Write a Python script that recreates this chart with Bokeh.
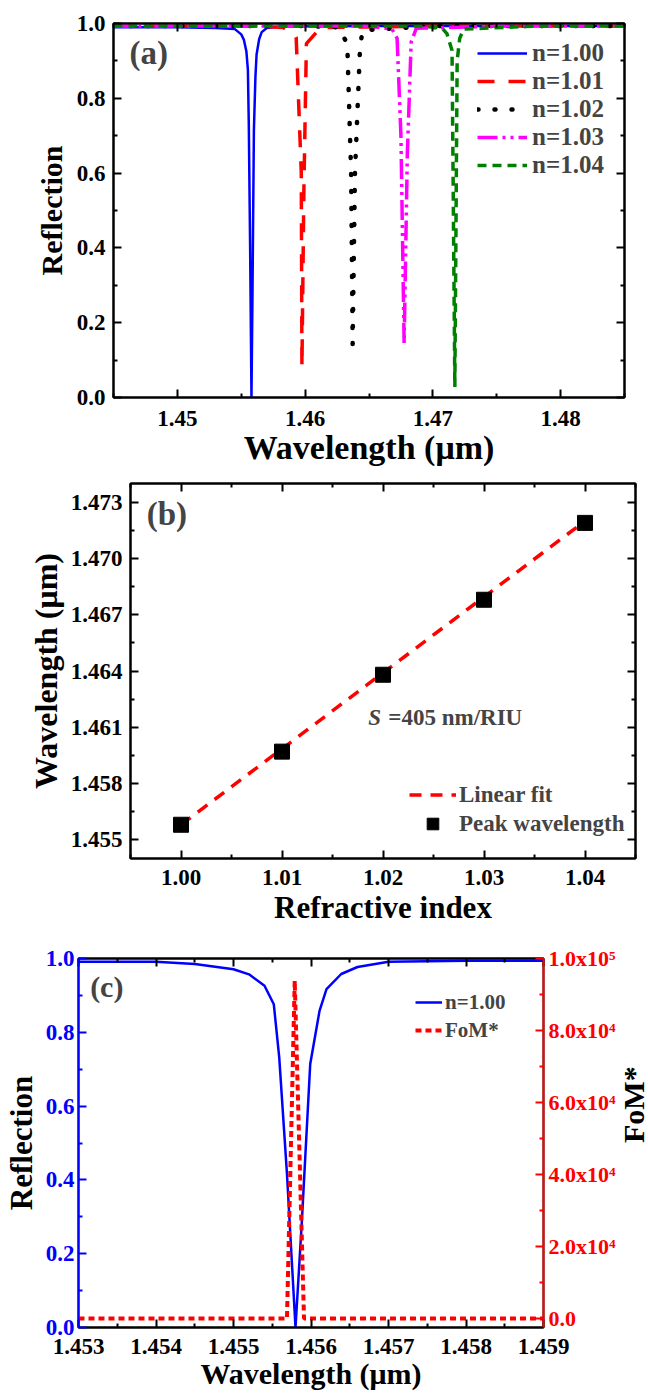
import math
from bokeh.plotting import figure
from bokeh.models import (LinearAxis, Range1d, FixedTicker, Legend, LegendItem,
                          Label, CustomJSTickFormatter)
from bokeh.embed import file_html
from bokeh.resources import INLINE

FONT = "Liberation Serif"

# ---------------- data: panel (a) ----------------
wl_100 = [1.4450, 1.4500, 1.4530, 1.4545, 1.4550, 1.4552, 1.4554, 1.45552, 1.45559, 1.45569,
          1.4558, 1.45588, 1.45599, 1.45611, 1.4562, 1.4564, 1.4566, 1.4570, 1.4580, 1.4650, 1.4850]
r_100 = [0.990, 0.990, 0.988, 0.985, 0.971, 0.957, 0.926, 0.876, 0.732, 0.416,
         0.000, 0.280, 0.714, 0.858, 0.917, 0.958, 0.977, 0.988, 0.992, 0.993, 0.993]
wl_101 = [1.4450, 1.4560, 1.4583, 1.4593, 1.4597, 1.45975, 1.4599, 1.4601, 1.4612, 1.4700, 1.4850]
r_101 = [0.993, 0.993, 0.989, 0.963, 0.600, 0.081, 0.550, 0.946, 0.989, 0.993, 0.993]
wl_102 = [1.4450, 1.4600, 1.4626, 1.4633, 1.4636, 1.46372, 1.4639, 1.4643, 1.4645, 1.4700, 1.4850]
r_102 = [0.993, 0.993, 0.990, 0.946, 0.600, 0.143, 0.600, 0.937, 0.982, 0.993, 0.993]
wl_103 = [1.4450, 1.4650, 1.4668, 1.4672, 1.4675, 1.46775, 1.4680, 1.4683, 1.4687, 1.4750, 1.4850]
r_103 = [0.993, 0.993, 0.985, 0.960, 0.700, 0.145, 0.650, 0.950, 0.987, 0.993, 0.993]
wl_104 = [1.4450, 1.4690, 1.4707, 1.4711, 1.4715, 1.47172, 1.4719, 1.4721, 1.4724, 1.4780, 1.4850]
r_104 = [0.993, 0.993, 0.988, 0.973, 0.928, 0.028, 0.900, 0.960, 0.985, 0.993, 0.993]
labels_a = ["n=1.00", "n=1.01", "n=1.02", "n=1.03", "n=1.04"]

xa_ticks = [1.45, 1.46, 1.47, 1.48]
xa_labels = ["1.45", "1.46", "1.47", "1.48"]
xa_minor = [1.445, 1.455, 1.465, 1.475, 1.485]
ya_ticks = [0.0, 0.2, 0.4, 0.6, 0.8, 1.0]
ya_labels = ["0.0", "0.2", "0.4", "0.6", "0.8", "1.0"]
ya_minor = [0.1, 0.3, 0.5, 0.7, 0.9]

# ---------------- data: panel (b) ----------------
ref_index = [1.00, 1.01, 1.02, 1.03, 1.04]
peak_wl = [1.4558, 1.4597, 1.4638, 1.4678, 1.4719]
fit_x = [1.000, 1.040]
fit_y = [1.4558, 1.4720]
xb_ticks = [1.00, 1.01, 1.02, 1.03, 1.04]
xb_labels = ["1.00", "1.01", "1.02", "1.03", "1.04"]
xb_minor = [0.995, 1.005, 1.015, 1.025, 1.035, 1.045]
yb_ticks = [1.455, 1.458, 1.461, 1.464, 1.467, 1.470, 1.473]
yb_labels = ["1.455", "1.458", "1.461", "1.464", "1.467", "1.470", "1.473"]
yb_minor = [1.4565, 1.4595, 1.4625, 1.4655, 1.4685, 1.4715]

# ---------------- data: panel (c) ----------------
wl_c = [1.4530, 1.4540, 1.4545, 1.4550, 1.4552, 1.4554, 1.45552, 1.45559, 1.45569, 1.4558,
        1.45588, 1.45599, 1.45611, 1.4562, 1.45639, 1.4566, 1.4570, 1.4580, 1.4590]
r_c = [0.991, 0.991, 0.985, 0.971, 0.957, 0.926, 0.876, 0.732, 0.416, 0.000,
       0.280, 0.714, 0.858, 0.917, 0.958, 0.977, 0.991, 0.994, 0.994]
wl_fom = [1.4530, 1.45569, 1.45579, 1.45591, 1.4590]
fom = [0, 0, 93800, 0, 0]
xc_ticks = [1.453, 1.454, 1.455, 1.456, 1.457, 1.458, 1.459]
xc_labels = ["1.453", "1.454", "1.455", "1.456", "1.457", "1.458", "1.459"]
xc_minor = [1.4535, 1.4545, 1.4555, 1.4565, 1.4575, 1.4585]
yc_ticks = [0.0, 0.2, 0.4, 0.6, 0.8, 1.0]
yc_labels = ["0.0", "0.2", "0.4", "0.6", "0.8", "1.0"]
yc_minor = [0.1, 0.3, 0.5, 0.7, 0.9]
yr_ticks = [0, 20000, 40000, 60000, 80000, 100000]
yr_labels = ["0.0", "2.0x10\u2074", "4.0x10\u2074", "6.0x10\u2074", "8.0x10\u2074", "1.0x10\u2075"]
yr_minor = [10000, 30000, 50000, 70000, 90000]


def fmt(ticks, labels):
    return CustomJSTickFormatter(args=dict(t=list(ticks), l=list(labels)), code="""
let best = 0, bd = Infinity;
for (let i = 0; i < t.length; i++) { const d = Math.abs(t[i] - tick); if (d < bd) { bd = d; best = i; } }
return l[best];
""")


def blank():
    return CustomJSTickFormatter(code="return '';")


def style_axis(ax, color="black", size="23px", standoff=8, lsize="30px", lstand=4):
    ax.axis_line_width = 2
    ax.axis_line_color = color
    ax.major_tick_line_color = color
    ax.minor_tick_line_color = color
    ax.major_tick_line_width = 2
    ax.minor_tick_line_width = 2
    ax.major_tick_in = 8
    ax.major_tick_out = 0
    ax.minor_tick_in = 4
    ax.minor_tick_out = 0
    ax.major_label_text_font = FONT
    ax.major_label_text_font_style = "bold"
    ax.major_label_text_font_size = size
    ax.major_label_text_color = color
    ax.major_label_standoff = standoff
    ax.axis_label_text_font = FONT
    ax.axis_label_text_font_style = "bold"
    ax.axis_label_text_font_size = lsize
    ax.axis_label_text_color = "black"
    ax.axis_label_standoff = lstand


def mirror(p, place, ticks, minor, color="black", range_name=None):
    kw = {}
    if range_name:
        kw["y_range_name"] = range_name
    ax = LinearAxis(ticker=FixedTicker(ticks=ticks, minor_ticks=minor), formatter=blank(), **kw)
    style_axis(ax, color=color, standoff=0)
    p.add_layout(ax, place)
    return ax


def base(fw, fh, l, r, t, b, xr, yr):
    p = figure(frame_width=fw, frame_height=fh, min_border_left=l, min_border_right=r,
               min_border_top=t, min_border_bottom=b, x_range=xr, y_range=yr,
               output_backend="svg", toolbar_location=None)
    p.xgrid.visible = False
    p.ygrid.visible = False
    p.outline_line_color = "black"
    p.outline_line_width = 2
    p.background_fill_color = "white"
    p.border_fill_color = "white"
    return p


def legend(items, loc, gw, fs, standoff, rowh):
    lg = Legend(items=items, location=loc, border_line_color=None, background_fill_alpha=0,
                padding=0, margin=0, spacing=0, glyph_width=gw, glyph_height=rowh,
                label_height=rowh, label_standoff=standoff, label_text_font=FONT,
                label_text_font_style="bold", label_text_font_size=fs)
    return lg

# ---------------- panel (a) ----------------
pa = base(511, 374, 113, 24, 23, 73, Range1d(1.445, 1.485), Range1d(0, 1))
pa.xaxis.ticker = FixedTicker(ticks=xa_ticks, minor_ticks=xa_minor)
pa.xaxis.formatter = fmt(xa_ticks, xa_labels)
pa.yaxis.ticker = FixedTicker(ticks=ya_ticks, minor_ticks=ya_minor)
pa.yaxis.formatter = fmt(ya_ticks, ya_labels)
pa.xaxis.axis_label = "Wavelength (\u03bcm)"
pa.yaxis.axis_label = "Reflection"
style_axis(pa.xaxis[0], standoff=13, lsize="34px", lstand=0)
style_axis(pa.yaxis[0], standoff=8, lsize="30px", lstand=6)
mirror(pa, "above", xa_ticks, xa_minor)
mirror(pa, "right", ya_ticks, ya_minor)

ra1 = pa.line(wl_100, r_100, line_color="#0000ff", line_width=2.5)
ra2 = pa.line(wl_101, r_101, line_color="#ff0000", line_width=3.5, line_dash="17 14")
ra3 = pa.line(wl_102, r_102, line_color="black", line_width=4.5, line_dash="1 16", line_cap="round")
ra4 = pa.line(wl_103, r_103, line_color="#ff00ff", line_width=3.5, line_dash="20 5 3 5 3 5")
ra5 = pa.line(wl_104, r_104, line_color="#008000", line_width=3.5, line_dash="9 6")
pa.add_layout(legend([LegendItem(label=lab, renderers=[r]) for lab, r in
                      zip(labels_a, [ra1, ra2, ra3, ra4, ra5])], (364, 218), 50, "25px", 5, 28))
pa.add_layout(Label(x=1.44625, y=0.92, text="(a)", text_baseline="middle", text_font=FONT,
                    text_font_style="bold", text_font_size="33px"))

# ---------------- panel (b) ----------------
pb = base(505, 375, 130, 13, 13, 77, Range1d(0.995, 1.045), Range1d(1.454, 1.474))
pb.xaxis.ticker = FixedTicker(ticks=xb_ticks, minor_ticks=xb_minor)
pb.xaxis.formatter = fmt(xb_ticks, xb_labels)
pb.yaxis.ticker = FixedTicker(ticks=yb_ticks, minor_ticks=yb_minor)
pb.yaxis.formatter = fmt(yb_ticks, yb_labels)
pb.xaxis.axis_label = "Refractive index"
pb.yaxis.axis_label = "Wavelength (\u03bcm)"
style_axis(pb.xaxis[0], standoff=11, lsize="31px", lstand=2)
style_axis(pb.yaxis[0], standoff=8, lsize="32px", lstand=4)
mirror(pb, "above", xb_ticks, xb_minor)
mirror(pb, "right", yb_ticks, yb_minor)

rb1 = pb.line(fit_x, fit_y, line_color="#ff0000", line_width=3.5, line_dash="12 9")
rb2 = pb.scatter(ref_index, peak_wl, marker="square", size=15, fill_color="black", line_color="black")
pb.add_layout(legend([LegendItem(label="Linear fit", renderers=[rb1]),
                      LegendItem(label="Peak wavelength", renderers=[rb2])],
                     (279, 20), 47, "23px", 3, 29))
pb.add_layout(Label(x=0.9966, y=1.4724, text="(b)", text_baseline="middle", text_font=FONT,
                    text_font_style="bold", text_font_size="33px"))
pb.add_layout(Label(x=1.01855, y=1.46152, text="S", text_baseline="middle", text_font=FONT,
                    text_font_style="bold italic", text_font_size="23px"))
pb.add_layout(Label(x=1.01855, y=1.46152, x_offset=20, text="=405 nm/RIU", text_baseline="middle",
                    text_font=FONT, text_font_style="bold", text_font_size="23px"))

# ---------------- panel (c) ----------------
pc = base(465, 369, 78, 105, 23, 66, Range1d(1.453, 1.459), Range1d(0, 1))
pc.extra_y_ranges = {"fom": Range1d(-2500, 100000)}
pc.xaxis.ticker = FixedTicker(ticks=xc_ticks, minor_ticks=xc_minor)
pc.xaxis.formatter = fmt(xc_ticks, xc_labels)
pc.yaxis.ticker = FixedTicker(ticks=yc_ticks, minor_ticks=yc_minor)
pc.yaxis.formatter = fmt(yc_ticks, yc_labels)
pc.xaxis.axis_label = "Wavelength (\u03bcm)"
pc.yaxis.axis_label = "Reflection"
style_axis(pc.xaxis[0], standoff=11, lsize="30px", lstand=0)
style_axis(pc.yaxis[0], color="#0000ff", standoff=4, lsize="31px", lstand=4)
mirror(pc, "above", xc_ticks, xc_minor)
rax = LinearAxis(y_range_name="fom", ticker=FixedTicker(ticks=yr_ticks, minor_ticks=yr_minor),
                 formatter=fmt(yr_ticks, yr_labels), axis_label="FoM*")
style_axis(rax, color="#ff0000", size="22px", standoff=5, lsize="30px", lstand=15)
if "axis_label_orientation" in rax.properties():
    rax.axis_label_orientation = math.pi / 2
pc.add_layout(rax, "right")

rc1 = pc.line(wl_c, r_c, line_color="#0000ff", line_width=2.5)
rc2 = pc.line(wl_fom, fom, y_range_name="fom", line_color="#ff0000", line_width=4, line_dash="6 4")
pc.add_layout(legend([LegendItem(label="n=1.00", renderers=[rc1]),
                      LegendItem(label="FoM*", renderers=[rc2])], (337, 283), 27, "21px", 3, 28))
pc.add_layout(Label(x=1.45315, y=0.925, text="(c)", text_baseline="middle", text_font=FONT,
                    text_font_style="bold", text_font_size="30px"))

open("out.html", "w").write(file_html([pa, pb, pc], INLINE))
